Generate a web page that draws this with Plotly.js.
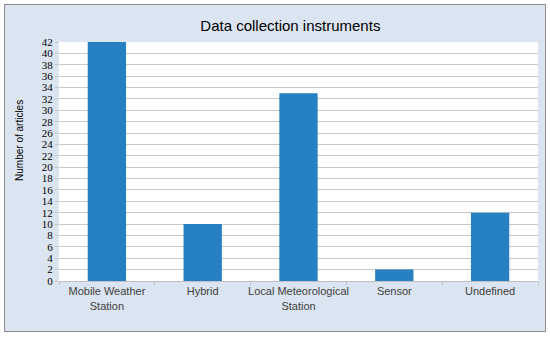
<!DOCTYPE html>
<html>
<head>
<meta charset="utf-8">
<script src="https://cdn.plot.ly/plotly-3.0.1.min.js"></script>
<style>
  body { margin: 0; background: #ffffff; }
  #chart { position: absolute; left: 4px; top: 4px; width: 540px; height: 326px;
           border: 1px solid #8c8c8c; background: #dbe5f1; }
</style>
</head>
<body>
<div id="chart"></div>
<script>
var instruments = ["Mobile Weather<br>Station", "Hybrid", "Local Meteorological<br>Station", "Sensor", "Undefined"];
var articleCounts = [42, 10, 33, 2, 12];

var trace = {
  x: instruments,
  y: articleCounts,
  type: "bar",
  marker: {color: "#2680c2"},
  hoverinfo: "x+y"
};

var layout = {
  width: 540,
  height: 326,
  paper_bgcolor: "rgba(0,0,0,0)",
  plot_bgcolor: "#ffffff",
  margin: {l: 54, r: 7, t: 37, b: 50},
  bargap: 0.6,
  showlegend: false,
  title: {
    text: "Data collection instruments",
    x: 0.483, xanchor: "center", xref: "paper",
    y: 0.935, yanchor: "middle", yref: "container",
    font: {family: "Liberation Sans, Arial, sans-serif", size: 15, color: "#000000"}
  },
  xaxis: {
    tickangle: 0,
    automargin: false,
    tickfont: {family: "Liberation Sans, Arial, sans-serif", size: 11, color: "#404040"},
    showline: true, linecolor: "#bfbfbf", linewidth: 1,
    ticks: "outside", tickson: "boundaries", ticklen: 3, tickcolor: "#bfbfbf",
    showgrid: false
  },
  yaxis: {
    range: [0, 42], dtick: 2,
    automargin: false,
    tickfont: {family: "Liberation Serif, Times New Roman, serif", size: 11, color: "#000000"},
    ticks: "outside", ticklen: 3, tickcolor: "#bfbfbf",
    showgrid: true, gridcolor: "#c8c8c8", gridwidth: 1,
    showline: false, zeroline: false
  },
  // y title sits above the plot's middle in the original, so use an annotation
  annotations: [{
    text: "Number of articles",
    xref: "paper", yref: "paper",
    x: -0.0814, y: 0.586,
    xanchor: "center", yanchor: "middle",
    textangle: -90, showarrow: false,
    font: {family: "Liberation Sans, Arial, sans-serif", size: 10, color: "#000000"}
  }]
};

Plotly.newPlot("chart", [trace], layout, {displayModeBar: false, staticPlot: true});
</script>
</body>
</html>
